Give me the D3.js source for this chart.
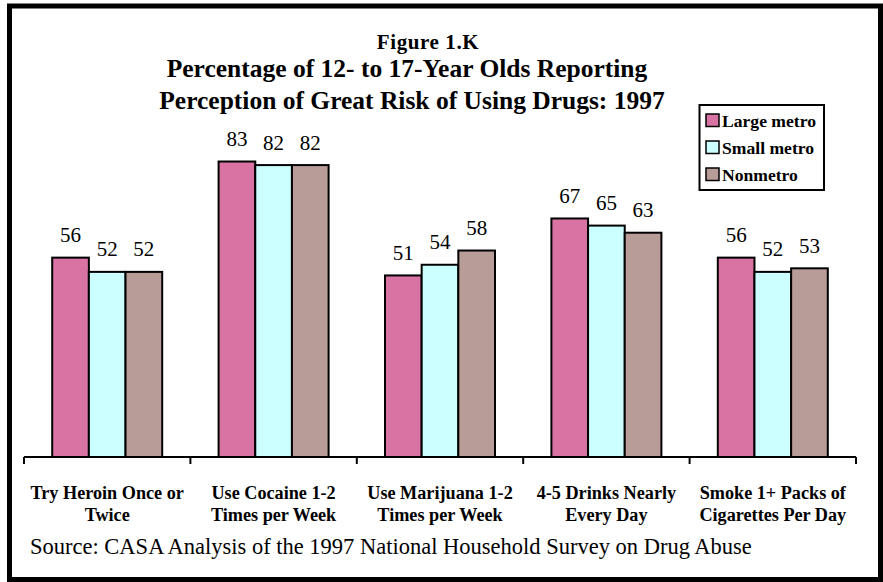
<!DOCTYPE html>
<html>
<head>
<meta charset="utf-8">
<script src="https://cdn.jsdelivr.net/npm/d3@7"></script>
<style>
  html, body { margin: 0; padding: 0; background: #fff; }
  svg text { font-family: "Liberation Serif", "Times New Roman", Times, "DejaVu Serif", serif; }
</style>
</head>
<body>
<svg id="chart" width="883" height="582"></svg>
<script>
// Risk perception among 12- to 17-year olds, by metro status (1997)
const categories = [
  ["Try Heroin Once or", "Twice"],
  ["Use Cocaine 1-2", "Times per Week"],
  ["Use Marijuana 1-2", "Times per Week"],
  ["4-5 Drinks Nearly", "Every Day"],
  ["Smoke 1+ Packs of", "Cigarettes Per Day"]
];
const seriesNames = ["Large metro", "Small metro", "Nonmetro"];
const largeMetro = [56, 83, 51, 67, 56];
const smallMetro = [52, 82, 54, 65, 52];
const nonmetro   = [52, 82, 58, 63, 53];
const seriesValues = [largeMetro, smallMetro, nonmetro];
const colors = ["#D873A3", "#CCFFFF", "#B89C97"];
const titleLines = [
  "Figure 1.K",
  "Percentage of 12- to 17-Year Olds Reporting",
  "Perception of Great Risk of Using Drugs: 1997"
];
const sourceNote = "Source: CASA Analysis of the 1997 National Household Survey on Drug Abuse";

const FONT = "'Liberation Serif', 'Times New Roman', Times, 'DejaVu Serif', serif";
const svg = d3.select("#chart");
const W = 883, H = 582;

svg.append("rect").attr("width", W).attr("height", H).attr("fill", "#fff");

// outer frame
svg.append("rect")
  .attr("x", 9.5).attr("y", 6)
  .attr("width", 871).attr("height", 573.5)
  .attr("fill", "none").attr("stroke", "#000").attr("stroke-width", 5);

// titles
const titleSpecs = [
  { x: 428, y: 48.5, size: 21, ls: 0.6 },
  { x: 407, y: 76.5, size: 25.5, ls: 0 },
  { x: 412, y: 109, size: 25.5, ls: 0 }
];
titleLines.forEach((t, i) => {
  svg.append("text")
    .attr("x", titleSpecs[i].x).attr("y", titleSpecs[i].y)
    .attr("text-anchor", "middle")
    .attr("font-family", FONT)
    .attr("font-weight", "bold")
    .attr("font-size", titleSpecs[i].size)
    .attr("letter-spacing", titleSpecs[i].ls)
    .text(t);
});

// scales
const x0 = d3.scaleBand().domain(d3.range(categories.length)).range([24, 856]);
const groupW = 110;
const x1 = d3.scaleBand().domain(d3.range(seriesNames.length)).range([0, groupW]);
const y = d3.scaleLinear().domain([0, 100]).range([457, 101]);

const groups = svg.append("g").selectAll("g")
  .data(categories.map((c, i) => i))
  .join("g")
  .attr("transform", i => `translate(${x0(i) + (x0.bandwidth() - groupW) / 2},0)`);

groups.selectAll("rect")
  .data(i => seriesValues.map((s, k) => ({ k, v: s[i] })))
  .join("rect")
  .attr("x", d => x1(d.k))
  .attr("y", d => y(d.v))
  .attr("width", x1.bandwidth())
  .attr("height", d => y(0) - y(d.v))
  .attr("fill", d => colors[d.k])
  .attr("stroke", "#000")
  .attr("stroke-width", 2);

groups.selectAll("text.val")
  .data(i => seriesValues.map((s, k) => ({ k, v: s[i] })))
  .join("text")
  .attr("class", "val")
  .attr("x", d => x1(d.k) + x1.bandwidth() / 2)
  .attr("y", d => y(d.v) - 15.5)
  .attr("text-anchor", "middle")
  .attr("font-family", FONT)
  .attr("font-size", 21)
  .text(d => d.v);

// category axis with ticks on the band boundaries
const axisG = svg.append("g");
axisG.append("line")
  .attr("x1", x0.range()[0]).attr("x2", x0.range()[1])
  .attr("y1", y(0)).attr("y2", y(0))
  .attr("stroke", "#000").attr("stroke-width", 2);
const bounds = d3.range(categories.length + 1).map(i => x0.range()[0] + i * x0.step());
axisG.selectAll("line.tick")
  .data(bounds)
  .join("line")
  .attr("class", "tick")
  .attr("x1", d => d).attr("x2", d => d)
  .attr("y1", y(0)).attr("y2", y(0) + 7)
  .attr("stroke", "#000").attr("stroke-width", 2);

const catLabels = axisG.selectAll("text.cat")
  .data(categories)
  .join("text")
  .attr("class", "cat")
  .attr("text-anchor", "middle")
  .attr("font-family", FONT)
  .attr("font-weight", "bold")
  .attr("font-size", 18.2);
catLabels.each(function(lines, i) {
  const t = d3.select(this);
  lines.forEach((ln, j) => {
    t.append("tspan")
      .attr("x", x0(i) + x0.bandwidth() / 2)
      .attr("y", 498.5 + j * 22.5)
      .text(ln);
  });
});

// legend
const lg = svg.append("g");
lg.append("rect")
  .attr("x", 699.5).attr("y", 105)
  .attr("width", 124.5).attr("height", 85)
  .attr("fill", "#fff").attr("stroke", "#000").attr("stroke-width", 2);
seriesNames.forEach((name, k) => {
  lg.append("rect")
    .attr("x", 706).attr("y", 114 + k * 27)
    .attr("width", 13).attr("height", 12.5)
    .attr("fill", colors[k]).attr("stroke", "#000").attr("stroke-width", 1.5);
  lg.append("text")
    .attr("x", 722).attr("y", 126.5 + k * 27)
    .attr("font-family", FONT)
    .attr("font-weight", "bold").attr("font-size", 17.6)
    .text(name);
});

// source note
svg.append("text")
  .attr("x", 30).attr("y", 554)
  .attr("font-family", FONT)
  .attr("font-size", 22.5)
  .text(sourceNote);
</script>
</body>
</html>
